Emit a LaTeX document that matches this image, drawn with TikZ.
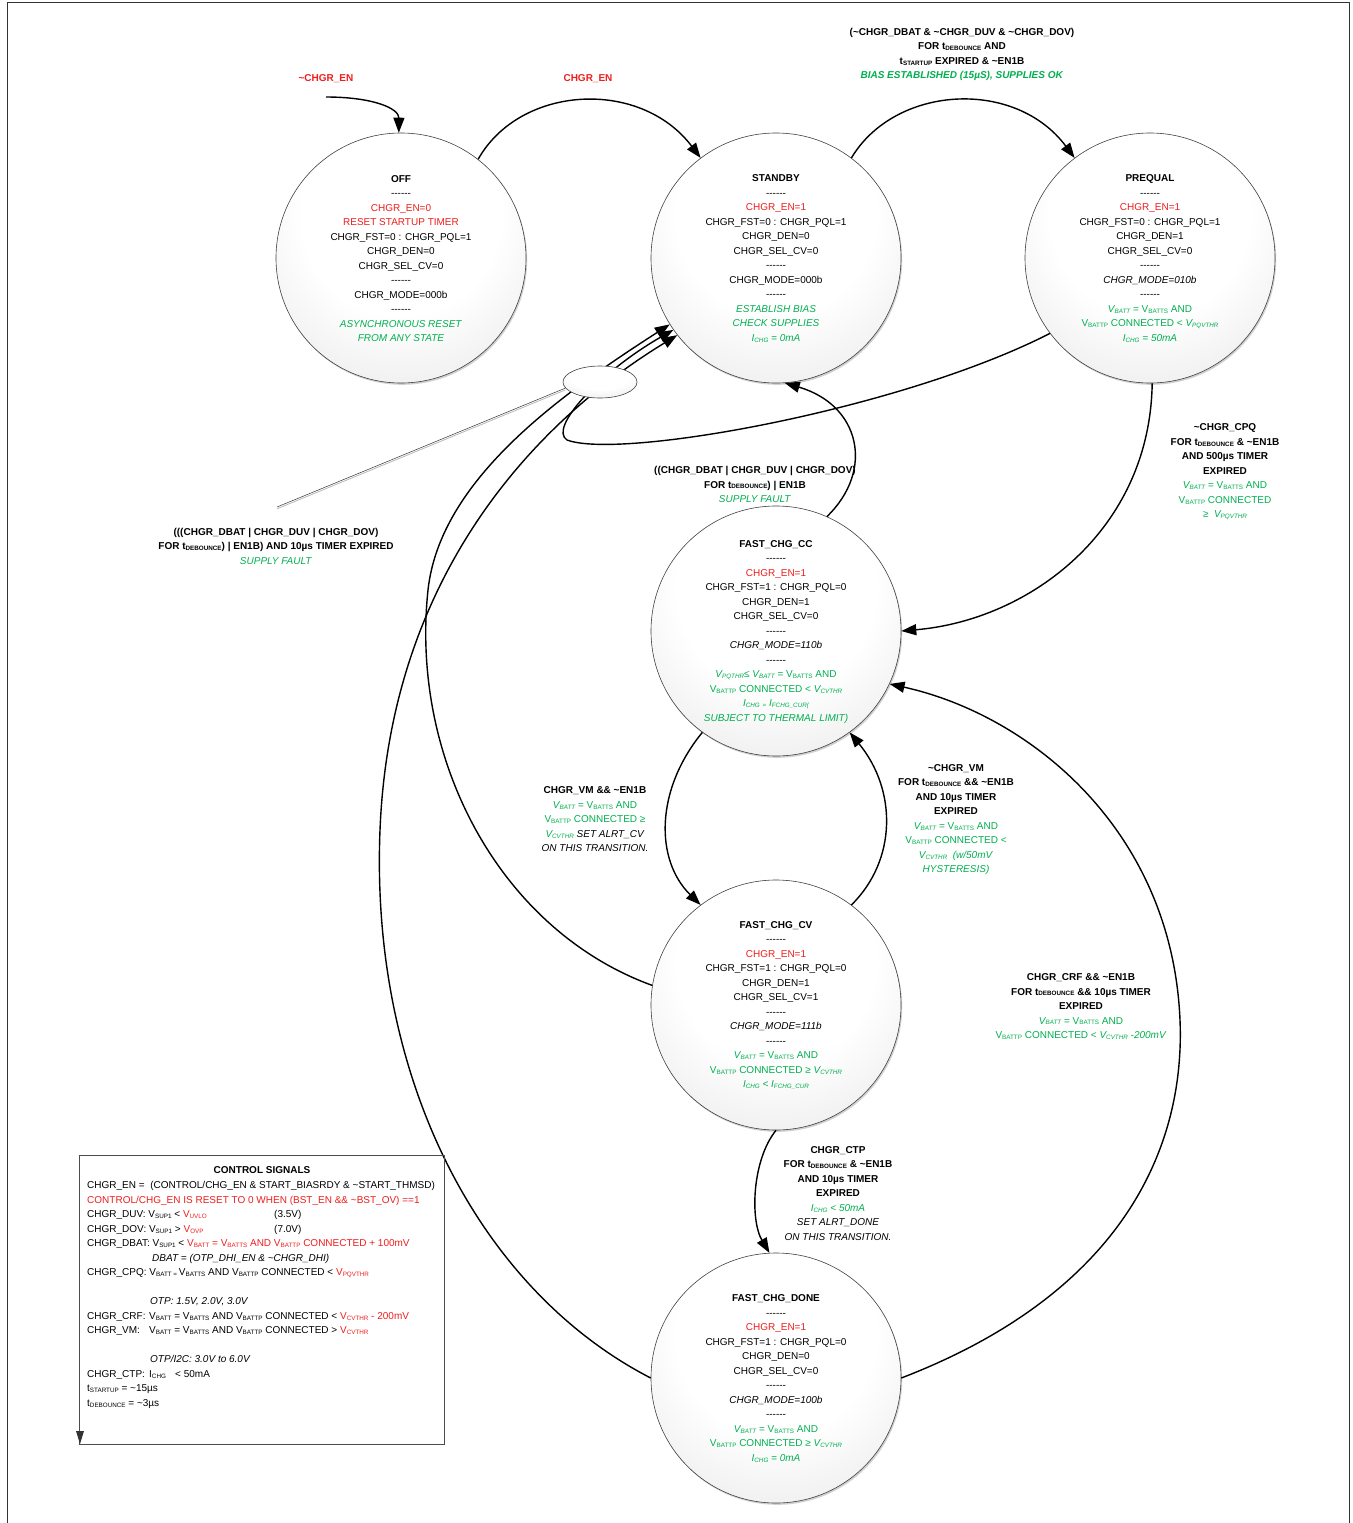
\documentclass[tikz,border=0pt]{standalone}
\usepackage{fontspec}
\setmainfont{Liberation Sans}
\usetikzlibrary{arrows.meta,shapes.geometric,shadows}
\definecolor{chred}{RGB}{240,30,30}
\definecolor{chgreen}{RGB}{0,176,80}
\newcommand\sbs[1]{\raisebox{-0.9pt}{\fontsize{6.3}{6.3}\selectfont #1}}
\newcommand\tld{\textasciitilde}
\newcommand\rd[1]{\textcolor{chred}{#1}}
\newcommand\gr[1]{\textcolor{chgreen}{#1}}
\newcommand\dsh{-\kern0pt-\kern0pt-\kern0pt-\kern0pt-\kern0pt-}
\pgfdeclareradialshading{ballshade}{\pgfpoint{0bp}{12bp}}{color(0bp)=(white); color(20bp)=(white); color(50bp)=(black!14); color(62bp)=(black!26); color(70bp)=(black!26)}
\begin{document}
\begin{tikzpicture}[x=1pt,y=-1pt,
  stc/.style={circle, draw=black!75, line width=0.6pt, minimum size=250pt, inner sep=0pt, shade, shading=ballshade,
    drop shadow={shadow xshift=1.2pt, shadow yshift=-1.8pt, opacity=0.3, fill=black!60}},
  stt/.style={align=center, font=\fontsize{10}{14.5}\selectfont, inner sep=0pt},
  lbl/.style={align=center, font=\fontsize{10}{14.5}\selectfont, inner sep=0pt},
  conn/.style={line width=1.4pt, draw=black, -{Triangle[length=15pt,width=11pt]}}]
\fill[white] (0,0) rectangle (1352,1523);
\useasboundingbox (0,0) rectangle (1352,1523);
\draw[line width=0.8pt, black!80] (7,1523) -- (7,2) -- (1349,2) -- (1349,1523);

% states
\node[stc] (off)  at (401,258) {};
\node[stc] (stby) at (776,258) {};
\node[stc] (preq) at (1150,258) {};
\node[stc] (cc)   at (776,631) {};
\node[stc] (cv)   at (776,1005) {};
\node[stc] (done) at (776,1378) {};

% connectors
\coordinate (entry) at (326,97);
\draw[conn] (entry) .. controls (372,97) and (399,108) .. (off.91);
\draw[conn] (off.52) .. controls (520,85) and (640,78) .. (stby.127);
\draw[conn] (stby.53) .. controls (895,85) and (1015,78) .. (preq.127);
\draw[conn] (preq.217) .. controls (900,410) and (620,460) .. (567,440) .. controls (548,428) and (600,372) .. (stby.215);
\draw[conn] (cv.171) .. controls (500,930) and (410,760) .. (428,590) .. controls (440,480) and (560,395) .. (stby.212);
\draw[conn] (done.180) .. controls (480,1290) and (370,1080) .. (380,830) .. controls (390,580) and (530,425) .. (stby.218);
\draw[conn] (cc.66) .. controls (875,470) and (860,405) .. (stby.274);
\draw[conn] (preq.271) .. controls (1150,530) and (1030,620) .. (cc.0);
\draw[conn] (cc.234) .. controls (655,790) and (655,860) .. (cv.127);
\draw[conn] (cv.53) .. controls (897,860) and (897,790) .. (cc.306);
\draw[conn] (cv.270) .. controls (752,1160) and (750,1220) .. (done.93);
\draw[conn] (done.0) .. controls (1130,1290) and (1185,1140) .. (1180,1020) .. controls (1172,830) and (1030,715) .. (cc.335);

% junction ellipse and callout
\node[ellipse, draw=black!75, line width=0.6pt, minimum width=74pt, minimum height=32pt, inner sep=0pt, shade, shading=ballshade] (ell) at (600,382) {};
\coordinate (callend) at (277,507);
\draw[gray!55, line width=0.8pt] ([yshift=-1.8pt]ell.190) -- ([yshift=-1.8pt]callend);
\draw[black!80, line width=0.5pt] (ell.190) -- (callend);

% state texts
\node[stt] (offt) at (401,258.5) {\textbf{OFF}\\ \dsh\\ \rd{CHGR\_EN=0}\\ \rd{RESET STARTUP TIMER}\\ CHGR\_FST=0 : CHGR\_PQL=1\\ CHGR\_DEN=0\\ CHGR\_SEL\_CV=0\\ \dsh\\ CHGR\_MODE=000b\\ \dsh\\ \gr{\textit{ASYNCHRONOUS RESET}}\\ \gr{\textit{FROM ANY STATE}}};
\node[stt] (stbyt) at (776,258.5) {\textbf{STANDBY}\\ \dsh\\ \rd{CHGR\_EN=1}\\ CHGR\_FST=0 : CHGR\_PQL=1\\ CHGR\_DEN=0\\ CHGR\_SEL\_CV=0\\ \dsh\\ CHGR\_MODE=000b\\ \dsh\\ \gr{\textit{ESTABLISH BIAS}}\\ \gr{\textit{CHECK SUPPLIES}}\\ \gr{\textit{I\sbs{CHG} = 0mA}}};
\node[stt] (preqt) at (1150,258.5) {\textbf{PREQUAL}\\ \dsh\\ \rd{CHGR\_EN=1}\\ CHGR\_FST=0 : CHGR\_PQL=1\\ CHGR\_DEN=1\\ CHGR\_SEL\_CV=0\\ \dsh\\ \textit{CHGR\_MODE=010b}\\ \dsh\\ \gr{\textit{V\sbs{BATT}} = V\sbs{BATTS} AND}\\ \gr{V\sbs{BATTP} CONNECTED < \textit{V\sbs{PQVTHR}}}\\ \gr{\textit{I\sbs{CHG} = 50mA}}};
\node[stt] (cct) at (776,632) {\textbf{FAST\_CHG\_CC}\\ \dsh\\ \rd{CHGR\_EN=1}\\ CHGR\_FST=1 : CHGR\_PQL=0\\ CHGR\_DEN=1\\ CHGR\_SEL\_CV=0\\ \dsh\\ \textit{CHGR\_MODE=110b}\\ \dsh\\ \gr{\textit{V\sbs{PQTHR}}≤ \textit{V\sbs{BATT}} = V\sbs{BATTS} AND}\\ \gr{V\sbs{BATTP} CONNECTED < \textit{V\sbs{CVTHR}}}\\ \gr{\textit{I\sbs{CHG} \sbs{=} I\sbs{FCHG\_CUR(}}}\\ \gr{\textit{SUBJECT TO THERMAL LIMIT)}}};
\node[stt] (cvt) at (776,1005.5) {\textbf{FAST\_CHG\_CV}\\ \dsh\\ \rd{CHGR\_EN=1}\\ CHGR\_FST=1 : CHGR\_PQL=0\\ CHGR\_DEN=1\\ CHGR\_SEL\_CV=1\\ \dsh\\ \textit{CHGR\_MODE=111b}\\ \dsh\\ \gr{\textit{V\sbs{BATT}} = V\sbs{BATTS} AND}\\ \gr{V\sbs{BATTP} CONNECTED ≥ \textit{V\sbs{CVTHR}}}\\ \gr{\textit{I\sbs{CHG} < I\sbs{FCHG\_CUR}}}};
\node[stt] (donet) at (776,1378.5) {\textbf{FAST\_CHG\_DONE}\\ \dsh\\ \rd{CHGR\_EN=1}\\ CHGR\_FST=1 : CHGR\_PQL=0\\ CHGR\_DEN=0\\ CHGR\_SEL\_CV=0\\ \dsh\\ \textit{CHGR\_MODE=100b}\\ \dsh\\ \gr{\textit{V\sbs{BATT}} = V\sbs{BATTS} AND}\\ \gr{V\sbs{BATTP} CONNECTED ≥ \textit{V\sbs{CVTHR}}}\\ \gr{\textit{I\sbs{CHG} = 0mA}}};

% transition labels
\node[lbl] (lentry) at (326,78.5) {\rd{\textbf{\tld CHGR\_EN}}};
\node[lbl] (len) at (588,78.5) {\rd{\textbf{CHGR\_EN}}};
\node[lbl] (ltop) at (962,54.5) {\textbf{(\tld CHGR\_DBAT \& \tld CHGR\_DUV \& \tld CHGR\_DOV)}\\ \textbf{FOR t\sbs{DEBOUNCE} AND}\\ \textbf{t\sbs{STARTUP} EXPIRED \& \tld EN1B}\\ \gr{\textbf{\textit{BIAS ESTABLISHED (15µS), SUPPLIES OK}}}};
\node[lbl] (lsf1) at (755,484.5) {\textbf{((CHGR\_DBAT | CHGR\_DUV | CHGR\_DOV)}\\ \textbf{FOR t\sbs{DEBOUNCE}) | EN1B}\\ \gr{\textit{SUPPLY FAULT}}};
\node[lbl] (lsf2) at (276,546) {\textbf{(((CHGR\_DBAT | CHGR\_DUV | CHGR\_DOV)}\\ \textbf{FOR t\sbs{DEBOUNCE}) | EN1B) AND 10µs TIMER EXPIRED}\\ \gr{\textit{SUPPLY FAULT}}};
\node[lbl] (lcpq) at (1225,472) {\textbf{\tld CHGR\_CPQ}\\ \textbf{FOR t\sbs{DEBOUNCE} \& \tld EN1B}\\ \textbf{AND 500µs TIMER}\\ \textbf{EXPIRED}\\ \gr{\textit{V\sbs{BATT}} = V\sbs{BATTS} AND}\\ \gr{V\sbs{BATTP} CONNECTED}\\ \gr{≥\ \ \textit{V\sbs{PQVTHR}}}};
\node[lbl] (lvm) at (595,819.5) {\textbf{CHGR\_VM \&\& \tld EN1B}\\ \gr{\textit{V\sbs{BATT}} = V\sbs{BATTS} AND}\\ \gr{V\sbs{BATTP} CONNECTED ≥}\\ \gr{\textit{V\sbs{CVTHR}}} \textit{SET ALRT\_CV}\\ \textit{ON THIS TRANSITION.}};
\node[lbl] (lnvm) at (956,819.5) {\textbf{\tld CHGR\_VM}\\ \textbf{FOR t\sbs{DEBOUNCE} \&\& \tld EN1B}\\ \textbf{AND 10µs TIMER}\\ \textbf{EXPIRED}\\ \gr{\textit{V\sbs{BATT}} = V\sbs{BATTS} AND}\\ \gr{V\sbs{BATTP} CONNECTED <}\\ \gr{\textit{V\sbs{CVTHR}}\ \ \textit{(w/50mV}}\\ \gr{\textit{HYSTERESIS)}}};
\node[lbl] (lcrf) at (1081,1006.5) {\textbf{CHGR\_CRF \&\& \tld EN1B}\\ \textbf{FOR t\sbs{DEBOUNCE} \&\& 10µs TIMER}\\ \textbf{EXPIRED}\\ \gr{\textit{V\sbs{BATT}} = V\sbs{BATTS} AND}\\ \gr{V\sbs{BATTP} CONNECTED < \textit{V\sbs{CVTHR} -200mV}}};
\node[lbl] (lctp) at (838,1193.5) {\textbf{CHGR\_CTP}\\ \textbf{FOR t\sbs{DEBOUNCE} \& \tld EN1B}\\ \textbf{AND 10µs TIMER}\\ \textbf{EXPIRED}\\ \gr{\textit{I\sbs{CHG} < 50mA}}\\ \textit{SET ALRT\_DONE}\\ \textit{ON THIS TRANSITION.}};

% control signals box
\draw[line width=0.6pt, black!70] (79,1155) rectangle (444,1444);
\fill[black!80] (76,1431) -- (84,1431) -- (80,1444) -- cycle;
\node[lbl] (ctitle) at (262,1170) {\textbf{CONTROL SIGNALS}};
\node[align=left, anchor=west, inner sep=0pt, font=\fontsize{10}{14.5}\selectfont] (ctext) at (87,1295) {CHGR\_EN =\ \ (CONTROL/CHG\_EN \& START\_BIASRDY \& \tld START\_THMSD)\\
\rd{CONTROL/CHG\_EN IS RESET TO 0 WHEN (BST\_EN \&\& \tld BST\_OV) ==1}\\
\makebox[187pt][l]{CHGR\_DUV: V\sbs{SUP1} < \rd{V\sbs{UVLO}}}(3.5V)\\
\makebox[187pt][l]{CHGR\_DOV: V\sbs{SUP1} > \rd{V\sbs{OVP}}}(7.0V)\\
CHGR\_DBAT: V\sbs{SUP1} < \rd{V\sbs{BATT} = V\sbs{BATTS} AND V\sbs{BATTP} CONNECTED + 100mV}\\
\hspace*{65pt}\textit{DBAT = (OTP\_DHI\_EN \& \tld CHGR\_DHI)}\\
CHGR\_CPQ: V\sbs{BATT = }V\sbs{BATTS} AND V\sbs{BATTP} CONNECTED < \rd{V\sbs{PQVTHR}}\\
\mbox{}\\
\hspace*{63pt}\textit{OTP: 1.5V, 2.0V, 3.0V}\\
\makebox[62pt][l]{CHGR\_CRF:}V\sbs{BATT} = V\sbs{BATTS} AND V\sbs{BATTP} CONNECTED < \rd{V\sbs{CVTHR} - 200mV}\\
\makebox[62pt][l]{CHGR\_VM:}V\sbs{BATT} = V\sbs{BATTS} AND V\sbs{BATTP} CONNECTED > \rd{V\sbs{CVTHR}}\\
\mbox{}\\
\hspace*{63pt}\textit{OTP/I2C: 3.0V to 6.0V}\\
\makebox[62pt][l]{CHGR\_CTP:}\makebox[26pt][l]{I\sbs{CHG}}< 50mA\\
t\sbs{STARTUP} = \tld 15µs\\
t\sbs{DEBOUNCE} = \tld 3µs};
\end{tikzpicture}
\end{document}
